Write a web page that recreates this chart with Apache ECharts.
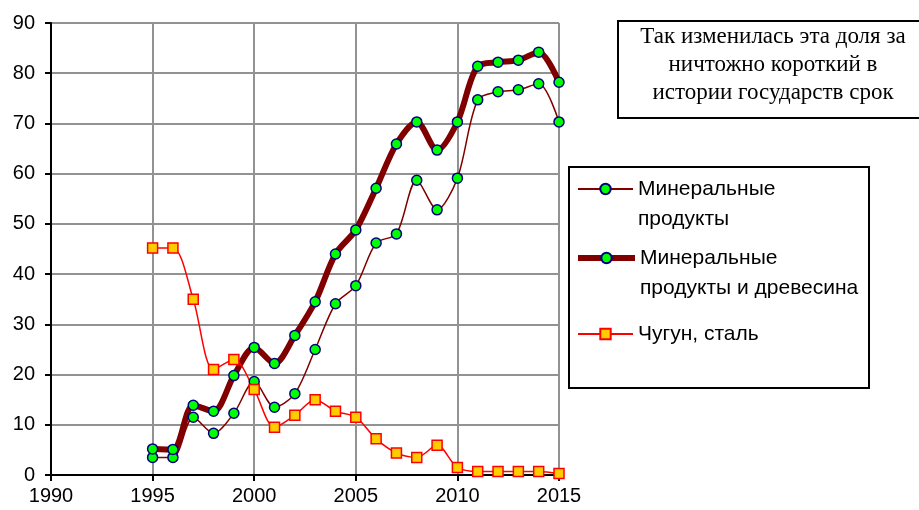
<!DOCTYPE html>
<html>
<head>
<meta charset="utf-8">
<script src="https://cdn.jsdelivr.net/npm/echarts@6/dist/echarts.min.js"></script>
<style>
  html, body { margin: 0; padding: 0; background: #fff; }
  #chart { width: 919px; height: 510px; }
</style>
</head>
<body>
<div id="chart"></div>
<script>
var years = [1995, 1996, 1997, 1998, 1999, 2000, 2001, 2002, 2003, 2004, 2005,
             2006, 2007, 2008, 2009, 2010, 2011, 2012, 2013, 2014, 2015];
var mineral = [3.5, 3.5, 11.5, 8.3, 12.3, 18.6, 13.5, 16.2, 25, 34.1, 37.7,
               46.2, 48, 58.7, 52.8, 59.1, 74.7, 76.3, 76.7, 77.9, 70.3];
var mineralWood = [5.2, 5.1, 13.9, 12.7, 19.8, 25.4, 22.2, 27.8, 34.5, 44, 48.8,
                   57.1, 65.9, 70.3, 64.7, 70.3, 81.4, 82.2, 82.6, 84.2, 78.2];
var steel = [45.2, 45.2, 35, 21, 23, 17, 9.5, 11.9, 15, 12.7, 11.5,
             7.2, 4.4, 3.5, 5.9, 1.5, 0.7, 0.7, 0.7, 0.7, 0.3];
var xTicks = {min: 1990, max: 2015, step: 5};
var yTicks = {min: 0, max: 90, step: 10};

var names = ['Минеральные\nпродукты', 'Минеральные\nпродукты и древесина', 'Чугун, сталь'];
var note = 'Так изменилась эта доля за\nничтожно короткий в\nистории государств срок';

function pairs(vals) {
    return years.map(function (y, i) { return [y, vals[i]]; });
}

var chart = echarts.init(document.getElementById('chart'));
var font = '"Liberation Sans", Arial, sans-serif';

var legendText = {
    fontFamily: font,
    fontSize: 21,
    color: '#000',
    lineHeight: 30
};
// blank first line keeps the icon level with the first line of a two-line name
function firstLine(name) {
    return '\n' + name;
}

option = {
    animation: false,
    backgroundColor: '#fff',
    grid: {
        left: 51,
        top: 23,
        right: 360,
        bottom: 35
    },
    xAxis: {
        type: 'value',
        min: xTicks.min,
        max: xTicks.max,
        interval: xTicks.step,
        axisLine: {lineStyle: {color: '#000', width: 2}},
        axisTick: {show: true, length: 6, lineStyle: {color: '#000', width: 2}},
        axisLabel: {
            color: '#000', fontFamily: font, fontSize: 20, margin: 11,
            formatter: function (v) { return String(v); }
        },
        splitLine: {show: true, lineStyle: {color: '#929292', width: 2}}
    },
    yAxis: {
        type: 'value',
        min: yTicks.min,
        max: yTicks.max,
        interval: yTicks.step,
        axisLine: {show: true, lineStyle: {color: '#000', width: 2}},
        axisTick: {show: true, length: 6, lineStyle: {color: '#000', width: 2}},
        axisLabel: {color: '#000', fontFamily: font, fontSize: 20, margin: 16},
        splitLine: {show: true, lineStyle: {color: '#929292', width: 2}}
    },
    legend: [
        {
            data: [names[0]], left: 577, top: 144, padding: 0,
            itemWidth: 55, itemHeight: 13, itemGap: 0,
            formatter: firstLine,
            textStyle: legendText
        },
        {
            data: [names[1]], left: 575, top: 213, padding: 0,
            itemWidth: 57, itemHeight: 13, itemGap: 0,
            lineStyle: {width: 6},
            formatter: firstLine,
            textStyle: legendText
        },
        {
            data: [names[2]], left: 577, top: 319, padding: 0,
            itemWidth: 55, itemHeight: 13, itemGap: 0,
            textStyle: legendText
        }
    ],
    graphic: [
        {
            type: 'rect',
            shape: {x: 569, y: 167, width: 300, height: 221},
            style: {fill: 'none', stroke: '#000', lineWidth: 2},
            z: 5
        },
        {
            type: 'rect',
            shape: {x: 618, y: 21, width: 310, height: 97},
            style: {fill: '#fff', stroke: '#000', lineWidth: 2},
            z: 5
        },
        {
            type: 'text',
            x: 773,
            y: 65,
            style: {
                text: note,
                font: '23px "Liberation Serif", "Times New Roman", serif',
                fill: '#000',
                align: 'center',
                verticalAlign: 'middle',
                lineHeight: 28
            },
            z: 6
        }
    ],
    series: [
        {
            name: names[0],
            type: 'line',
            smooth: 0.3,
            data: pairs(mineral),
            symbol: 'circle',
            symbolSize: 10,
            lineStyle: {color: '#800000', width: 1.5},
            itemStyle: {color: '#00ff00', borderColor: '#000080', borderWidth: 1.5}
        },
        {
            name: names[1],
            type: 'line',
            smooth: 0.3,
            data: pairs(mineralWood),
            symbol: 'circle',
            symbolSize: 10,
            lineStyle: {color: '#800000', width: 6},
            itemStyle: {color: '#00ff00', borderColor: '#000080', borderWidth: 1.5}
        },
        {
            name: names[2],
            type: 'line',
            smooth: 0.3,
            data: pairs(steel),
            symbol: 'rect',
            symbolSize: 10,
            lineStyle: {color: '#ff0000', width: 1.5},
            itemStyle: {color: '#ffcc00', borderColor: '#ff0000', borderWidth: 1.5}
        }
    ]
};
chart.setOption(option);
</script>
</body>
</html>
